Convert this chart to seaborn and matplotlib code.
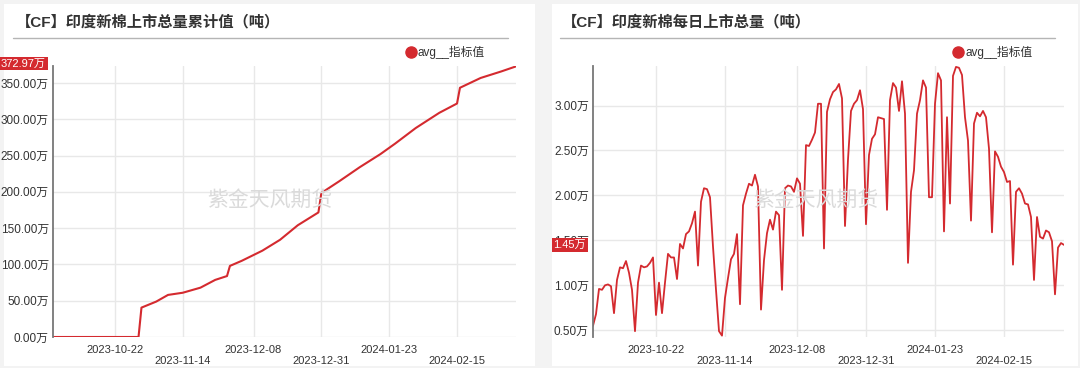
import matplotlib.pyplot as plt
from matplotlib.lines import Line2D
from matplotlib.patches import Rectangle
import seaborn as sns
import pandas as pd

# cumulative total (万吨), read at the line's break points
cum_dates = ['2023-10-01', '2023-10-30', '2023-10-31', '2023-11-05', '2023-11-09',
             '2023-11-14', '2023-11-20', '2023-11-25', '2023-11-29', '2023-11-30',
             '2023-12-04', '2023-12-11', '2023-12-17', '2023-12-23', '2023-12-30',
             '2023-12-31', '2024-01-06', '2024-01-13', '2024-01-20', '2024-01-25',
             '2024-02-01', '2024-02-09', '2024-02-15', '2024-02-16', '2024-02-23',
             '2024-03-01', '2024-03-06']
cum_values = [0, 0, 40.5, 48.8, 58, 61, 68, 78.7, 84, 98,
              105, 119, 134, 154, 171.7, 198.5, 214.5, 234, 252, 266.5,
              288, 309, 321.8, 343.5, 357, 366, 372.97]

# daily arrivals (万吨), one value per day from 2023-10-01
daily_start = '2023-10-01'
daily_values = [0.55, 0.68, 0.96, 0.95, 1.00, 1.01, 0.99, 0.69, 1.06, 1.20,
                1.19, 1.27, 1.14, 0.95, 0.49, 1.03, 1.22, 1.20, 1.21, 1.25,
                1.31, 0.67, 1.03, 0.69, 1.03, 1.35, 1.31, 1.31, 1.07, 1.46,
                1.41, 1.57, 1.60, 1.69, 1.82, 1.22, 1.93, 2.08, 2.07, 1.98,
                1.43, 0.95, 0.49, 0.44, 0.86, 1.08, 1.29, 1.35, 1.57, 0.79,
                1.89, 2.02, 2.13, 2.11, 2.23, 2.10, 0.73, 1.28, 1.58, 1.73,
                1.62, 1.82, 1.78, 0.95, 2.08, 2.11, 2.10, 2.04, 2.19, 2.13,
                1.55, 2.56, 2.55, 2.62, 2.70, 3.02, 3.02, 1.41, 2.93, 3.07,
                3.15, 3.18, 3.24, 3.08, 1.66, 2.40, 2.94, 3.02, 3.06, 3.17,
                2.96, 1.68, 2.45, 2.63, 2.68, 2.87, 2.86, 2.85, 1.84, 3.06,
                3.25, 3.20, 2.94, 3.27, 2.91, 1.25, 2.04, 2.28, 2.91, 3.06,
                3.28, 3.20, 1.98, 1.98, 3.02, 3.36, 3.28, 1.60, 2.87, 1.91,
                3.33, 3.43, 3.42, 3.34, 2.87, 2.61, 1.72, 2.80, 2.92, 2.88,
                2.94, 2.87, 2.52, 1.59, 2.49, 2.43, 2.32, 2.26, 2.15, 2.16,
                1.23, 2.04, 2.08, 2.02, 1.91, 1.90, 1.76, 1.06, 1.76, 1.54,
                1.52, 1.61, 1.59, 1.49, 0.90, 1.42, 1.47, 1.45]

tick_dates = ['2023-10-22', '2023-11-14', '2023-12-08', '2023-12-31', '2024-01-23', '2024-02-15']
cum_yticks = [0, 50, 100, 150, 200, 250, 300, 350]
daily_yticks = [0.5, 1.0, 1.5, 2.0, 2.5, 3.0]

titles = ['【CF】印度新棉上市总量累计值（吨）', '【CF】印度新棉每日上市总量（吨）']
legend_label = 'avg__指标值'
watermark = '紫金天风期货'

sns.set_style('white')
plt.rcParams['font.family'] = ['Liberation Sans', 'Noto Sans CJK SC']

RED = '#d42a2f'
W, H = 1080, 368

fig = plt.figure(figsize=(W / 100, H / 100), dpi=100, facecolor='#f3f3f3')

def fx(px):
    return px / W

def fy(py):
    return 1 - py / H

# white panels
for x0, x1 in [(4, 535), (552, 1078)]:
    fig.add_artist(Rectangle((fx(x0), fy(366)), fx(x1 - x0), (366 - 4) / H,
                             transform=fig.transFigure, fc='white', ec='none', zorder=0))

ax1 = fig.add_axes([fx(53), fy(337), fx(516 - 53), (337 - 66) / H])
ax2 = fig.add_axes([fx(593), fy(337), fx(1064 - 593), (337 - 66) / H])

cum_df = pd.DataFrame({'date': pd.to_datetime(cum_dates), 'value': cum_values})
daily_df = pd.DataFrame({'date': pd.date_range(daily_start, periods=len(daily_values), freq='D'),
                         'value': daily_values})

sns.lineplot(data=cum_df, x='date', y='value', ax=ax1, color=RED, lw=1.5)
sns.lineplot(data=daily_df, x='date', y='value', ax=ax2, color=RED, lw=1.3)

ticks = pd.to_datetime(tick_dates)
tick_labels = [d if i % 2 == 0 else '\n' + d for i, d in enumerate(tick_dates)]

for ax, yt, ylim in [(ax1, cum_yticks, (0, 373.5)),
                     (ax2, daily_yticks, (0.425, 3.44))]:
    ax.set_facecolor('none')
    ax.set_xlim(daily_df['date'].iloc[0], daily_df['date'].iloc[-1])
    ax.set_ylim(*ylim)
    ax.set_xticks(ticks)
    ax.set_xticklabels(tick_labels)
    ax.set_yticks(yt)
    ax.set_yticklabels([f'{v:.2f}万' for v in yt])
    ax.tick_params(axis='x', length=0, labelsize=8, labelcolor='#333333', pad=5.5)
    ax.tick_params(axis='y', length=0, labelsize=8.5, labelcolor='#333333', pad=3)
    ax.grid(True, color='#e8e8e8', lw=1)
    ax.set_xlabel('')
    ax.set_ylabel('')
    for s in ['top', 'right', 'bottom']:
        ax.spines[s].set_visible(False)
    ax.spines['left'].set_color('#777777')
    ax.spines['left'].set_linewidth(1.3)

# last-value badges
for ax, val, dy in [(ax1, cum_values[-1], 2), (ax2, daily_values[-1], 0)]:
    ax.annotate(f'{val:.2f}万', xy=(0, val), xycoords=('axes fraction', 'data'),
                xytext=(-5, dy), textcoords='offset points',
                ha='right', va='center', fontsize=8, color='white', annotation_clip=False,
                zorder=10, bbox=dict(boxstyle='square,pad=0.15', fc=RED, ec='none'))

# titles, separators, legends, watermarks
for x_title, x_line, x_leg, x_mark, title in [(16, (13, 508), 411, 270, titles[0]),
                                              (562, (560, 1055), 958, 816, titles[1])]:
    fig.text(fx(x_title), fy(22), title, fontsize=11, fontweight='bold',
             color='#333333', va='center', ha='left')
    fig.add_artist(Line2D([fx(x_line[0]), fx(x_line[1])], [fy(38), fy(38)],
                          transform=fig.transFigure, color='#b5b5b5', lw=1))
    fig.add_artist(Line2D([fx(x_leg)], [fy(52)], transform=fig.transFigure,
                          marker='o', ms=8, color=RED, lw=0))
    fig.text(fx(x_leg + 7), fy(52), legend_label, fontsize=8.5, color='#333333',
             va='center', ha='left')
    fig.text(fx(x_mark), fy(200), watermark, fontsize=15, color='#dadada',
             va='center', ha='center', zorder=5)

fig.savefig('out.png', dpi=100, facecolor=fig.get_facecolor())
